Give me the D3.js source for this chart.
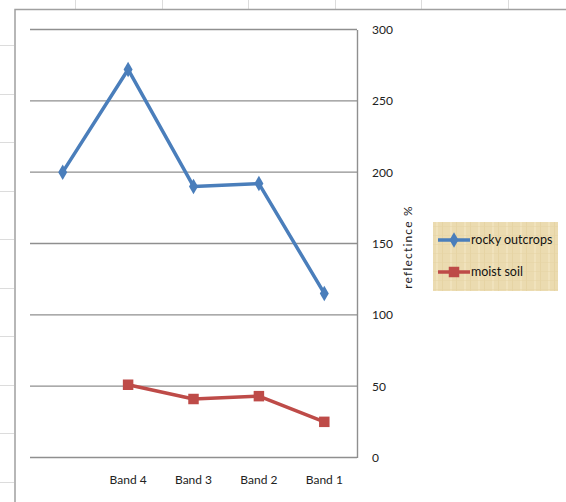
<!DOCTYPE html>
<html>
<head>
<meta charset="utf-8">
<script src="https://cdn.jsdelivr.net/npm/d3@7"></script>
<style>
  html, body { margin: 0; padding: 0; background: #fff; }
  svg { display: block; font-family: Lato, "Open Sans", sans-serif; }
</style>
</head>
<body>
<svg id="chart" width="566" height="502"></svg>
<script>
// Band order along the x axis (first slot has no label)
const categories = ["", "Band 4", "Band 3", "Band 2", "Band 1"];
const rockyOutcrops = [200, 272, 190, 192, 115];
const moistSoil = [null, 51, 41, 43, 25];
const yTicks = [0, 50, 100, 150, 200, 250, 300];
const seriesNames = ["rocky outcrops", "moist soil"];

const svg = d3.select("#chart");
const W = 566, H = 502;

svg.append("rect").attr("width", W).attr("height", H).attr("fill", "#fff");

// worksheet cell lines peeking out around the chart object
const sheet = svg.append("g").attr("stroke", "#dcdcdc").attr("stroke-width", 1);
for (let x = 75; x < W; x += 86.6) {
  sheet.append("line").attr("x1", Math.round(x) + 0.5).attr("x2", Math.round(x) + 0.5)
    .attr("y1", 0).attr("y2", 9);
}
for (let y = 45; y < H; y += 48.5) {
  sheet.append("line").attr("x1", 0).attr("x2", 14)
    .attr("y1", Math.round(y) + 0.5).attr("y2", Math.round(y) + 0.5);
}

// chart object frame
svg.append("rect")
  .attr("x", 15).attr("y", 9.5).attr("width", W + 10).attr("height", H + 10)
  .attr("fill", "#fff").attr("stroke", "#a0a0a0").attr("stroke-width", 1.5);

const plot = { left: 30, right: 357, top: 29.5, bottom: 457.5 };

const x = d3.scaleBand().domain(categories).range([plot.left, plot.right]);
const cx = d => x(d) + x.bandwidth() / 2;
const y = d3.scaleLinear().domain([0, 300]).range([plot.bottom, plot.top]);

// horizontal gridlines
svg.append("g").selectAll("line").data(yTicks).join("line")
  .attr("x1", plot.left).attr("x2", plot.right)
  .attr("y1", d => y(d)).attr("y2", d => y(d))
  .attr("stroke", "#8f8f8f").attr("stroke-width", 1.4);

// value axis on the right
const yAxis = svg.append("g")
  .attr("transform", `translate(${plot.right},0)`)
  .call(d3.axisRight(y).tickValues(yTicks).tickSize(0).tickPadding(15));
yAxis.select(".domain").attr("stroke", "#8f8f8f").attr("stroke-width", 1.4);
yAxis.selectAll("text").attr("font-size", 12).attr("fill", "#222")
  .attr("font-family", "Lato, sans-serif");

// category axis labels
const xAxis = svg.append("g")
  .attr("transform", `translate(0,${plot.bottom})`)
  .call(d3.axisBottom(x).tickSize(0).tickPadding(18));
xAxis.select(".domain").remove();
xAxis.selectAll("text").attr("font-size", 12).attr("fill", "#222")
  .attr("font-family", "Lato, sans-serif");

// axis title
svg.append("text")
  .attr("transform", "translate(412,247) rotate(-90)")
  .attr("text-anchor", "middle")
  .attr("font-size", 12).attr("letter-spacing", 1.2).attr("fill", "#222")
  .text("reflectince %");

const colors = ["#4a7ebb", "#be4b48"];
const seriesData = [rockyOutcrops, moistSoil];

const line = d3.line()
  .defined(d => d.v != null)
  .x(d => cx(d.c)).y(d => y(d.v));

const diamond = d3.symbol().type(d3.symbolDiamond).size(70);
const square = d3.symbol().type(d3.symbolSquare).size(110);
const symbols = [diamond, square];

seriesData.forEach((vals, i) => {
  const pts = categories.map((c, j) => ({ c, v: vals[j] }));
  svg.append("path").datum(pts)
    .attr("d", line).attr("fill", "none")
    .attr("stroke", colors[i]).attr("stroke-width", 3.5)
    .attr("stroke-linejoin", "round").attr("stroke-linecap", "round");
  svg.append("g").selectAll("path").data(pts.filter(d => d.v != null)).join("path")
    .attr("d", symbols[i])
    .attr("transform", d => `translate(${cx(d.c)},${y(d.v)})`)
    .attr("fill", colors[i]);
});

// legend with parchment-style fill
const defs = svg.append("defs");
const pat = defs.append("pattern").attr("id", "parch")
  .attr("patternUnits", "userSpaceOnUse").attr("width", 14).attr("height", 9);
pat.append("rect").attr("width", 14).attr("height", 9).attr("fill", "#ebdbb0");
pat.append("rect").attr("x", 3).attr("width", 2).attr("height", 9).attr("fill", "#f1e4bf").attr("opacity", 0.8);
pat.append("rect").attr("x", 9).attr("width", 1).attr("height", 9).attr("fill", "#e2cf9c").attr("opacity", 0.6);
pat.append("rect").attr("y", 4).attr("width", 14).attr("height", 1).attr("fill", "#e6d4a4").attr("opacity", 0.5);

const lg = svg.append("g").attr("transform", "translate(433,222)");
lg.append("rect").attr("width", 125).attr("height", 69).attr("fill", "url(#parch)");
seriesNames.forEach((name, i) => {
  const ly = 18 + i * 32;
  lg.append("line").attr("x1", 5).attr("x2", 37).attr("y1", ly).attr("y2", ly)
    .attr("stroke", colors[i]).attr("stroke-width", 3.5);
  lg.append("path").attr("d", symbols[i]).attr("transform", `translate(21,${ly})`)
    .attr("fill", colors[i]);
  lg.append("text").attr("x", 38).attr("y", ly).attr("dy", "0.35em")
    .attr("font-size", 12.5).attr("fill", "#111").text(name);
});
</script>
</body>
</html>
